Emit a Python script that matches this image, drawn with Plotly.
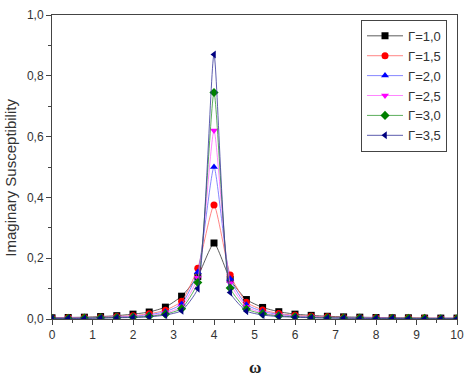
import plotly.graph_objects as go

omega = [0.0, 0.4, 0.8, 1.2, 1.6, 2.0, 2.4, 2.8, 3.2, 3.6, 4.0, 4.4, 4.8,
         5.2, 5.6, 6.0, 6.4, 6.8, 7.2, 7.6, 8.0, 8.4, 8.8, 9.2, 9.6, 10.0]

g10 = [0.004, 0.005, 0.006, 0.008, 0.011, 0.016, 0.023, 0.039, 0.075, 0.14, 0.25, 0.13, 0.064,
       0.038, 0.024, 0.016, 0.012, 0.009, 0.007, 0.006, 0.005, 0.004, 0.004, 0.003, 0.003, 0.003]
g15 = [0.003, 0.004, 0.005, 0.006, 0.008, 0.011, 0.017, 0.029, 0.058, 0.167, 0.375, 0.145, 0.055,
       0.030, 0.018, 0.012, 0.009, 0.007, 0.005, 0.004, 0.004, 0.003, 0.003, 0.003, 0.002, 0.002]
g20 = [0.003, 0.003, 0.004, 0.005, 0.007, 0.009, 0.014, 0.024, 0.049, 0.155, 0.50, 0.132, 0.047,
       0.025, 0.015, 0.010, 0.007, 0.005, 0.004, 0.004, 0.003, 0.003, 0.002, 0.002, 0.002, 0.002]
g25 = [0.002, 0.003, 0.003, 0.004, 0.006, 0.008, 0.011, 0.019, 0.041, 0.136, 0.62, 0.118, 0.040,
       0.020, 0.012, 0.008, 0.006, 0.005, 0.004, 0.003, 0.003, 0.002, 0.002, 0.002, 0.002, 0.002]
g30 = [0.002, 0.002, 0.003, 0.004, 0.005, 0.006, 0.009, 0.016, 0.034, 0.12, 0.745, 0.102, 0.033,
       0.017, 0.010, 0.007, 0.005, 0.004, 0.003, 0.003, 0.002, 0.002, 0.002, 0.002, 0.001, 0.001]
g35 = [0.002, 0.002, 0.002, 0.003, 0.004, 0.005, 0.007, 0.013, 0.027, 0.10, 0.87, 0.087, 0.026,
       0.013, 0.008, 0.006, 0.004, 0.003, 0.003, 0.002, 0.002, 0.002, 0.001, 0.001, 0.001, 0.001]

names = ["Γ=1,0", "Γ=1,5", "Γ=2,0", "Γ=2,5", "Γ=3,0", "Γ=3,5"]
series = [g10, g15, g20, g25, g30, g35]
colors = ["#000000", "#ff0000", "#0000ff", "#ff00ff", "#008000", "#000080"]
lines = ["#333333", "#ff6666", "#6666ff", "#ff66ff", "#339933", "#333399"]
symbols = ["square", "circle", "triangle-up", "triangle-down", "diamond", "triangle-left"]

fig = go.Figure()
for n, y, c, lc, s in zip(names, series, colors, lines, symbols):
    fig.add_trace(go.Scatter(
        x=omega, y=y, name=n, mode="lines+markers",
        line=dict(color=lc, width=0.8, shape="spline", smoothing=0.5),
        marker=dict(symbol=s, color=c, size=7, line=dict(width=0)),
    ))

axis_common = dict(
    showgrid=False, zeroline=False, showline=True, linecolor="#444444", linewidth=1,
    mirror=True, ticks="outside", ticklen=5, tickcolor="#444444", tickwidth=1,
    tickfont=dict(family="Liberation Sans, Arial", size=12, color="#333333"),
)

fig.update_layout(
    width=472, height=378,
    margin=dict(l=52, r=11, t=8, b=59),
    plot_bgcolor="white", paper_bgcolor="white",
    separators=",.",
    showlegend=True,
    legend=dict(
        x=0.763, y=0.984, xanchor="left", yanchor="top",
        bordercolor="#444444", borderwidth=1, bgcolor="white",
        font=dict(family="Liberation Sans, Arial", size=13, color="#333333"),
        tracegroupgap=0, itemwidth=36,
    ),
    xaxis=dict(
        range=[0, 10], dtick=1, tickformat="d",
        minor=dict(dtick=0.5, ticks="outside", ticklen=3, tickcolor="#444444"),
        **axis_common,
    ),
    yaxis=dict(
        range=[0, 1.0], dtick=0.2, tickformat=".1f",
        minor=dict(dtick=0.1, ticks="outside", ticklen=3, tickcolor="#444444"),
        **axis_common,
    ),
    annotations=[
        dict(text="Imaginary Susceptibility", xref="paper", yref="paper",
             x=-52 / 409 + 10 / 409, y=(319 - 174) / 311, xanchor="center", yanchor="middle",
             textangle=-90, showarrow=False,
             font=dict(family="Liberation Sans, Arial", size=15, color="#333333")),
        dict(text="<b>ω</b>", xref="paper", yref="paper",
             x=0.5, y=-(369 - 319) / 311, xanchor="center", yanchor="middle",
             showarrow=False,
             font=dict(family="Liberation Serif, serif", size=17, color="#222222")),
    ],
)

fig.write_html("out.html")
